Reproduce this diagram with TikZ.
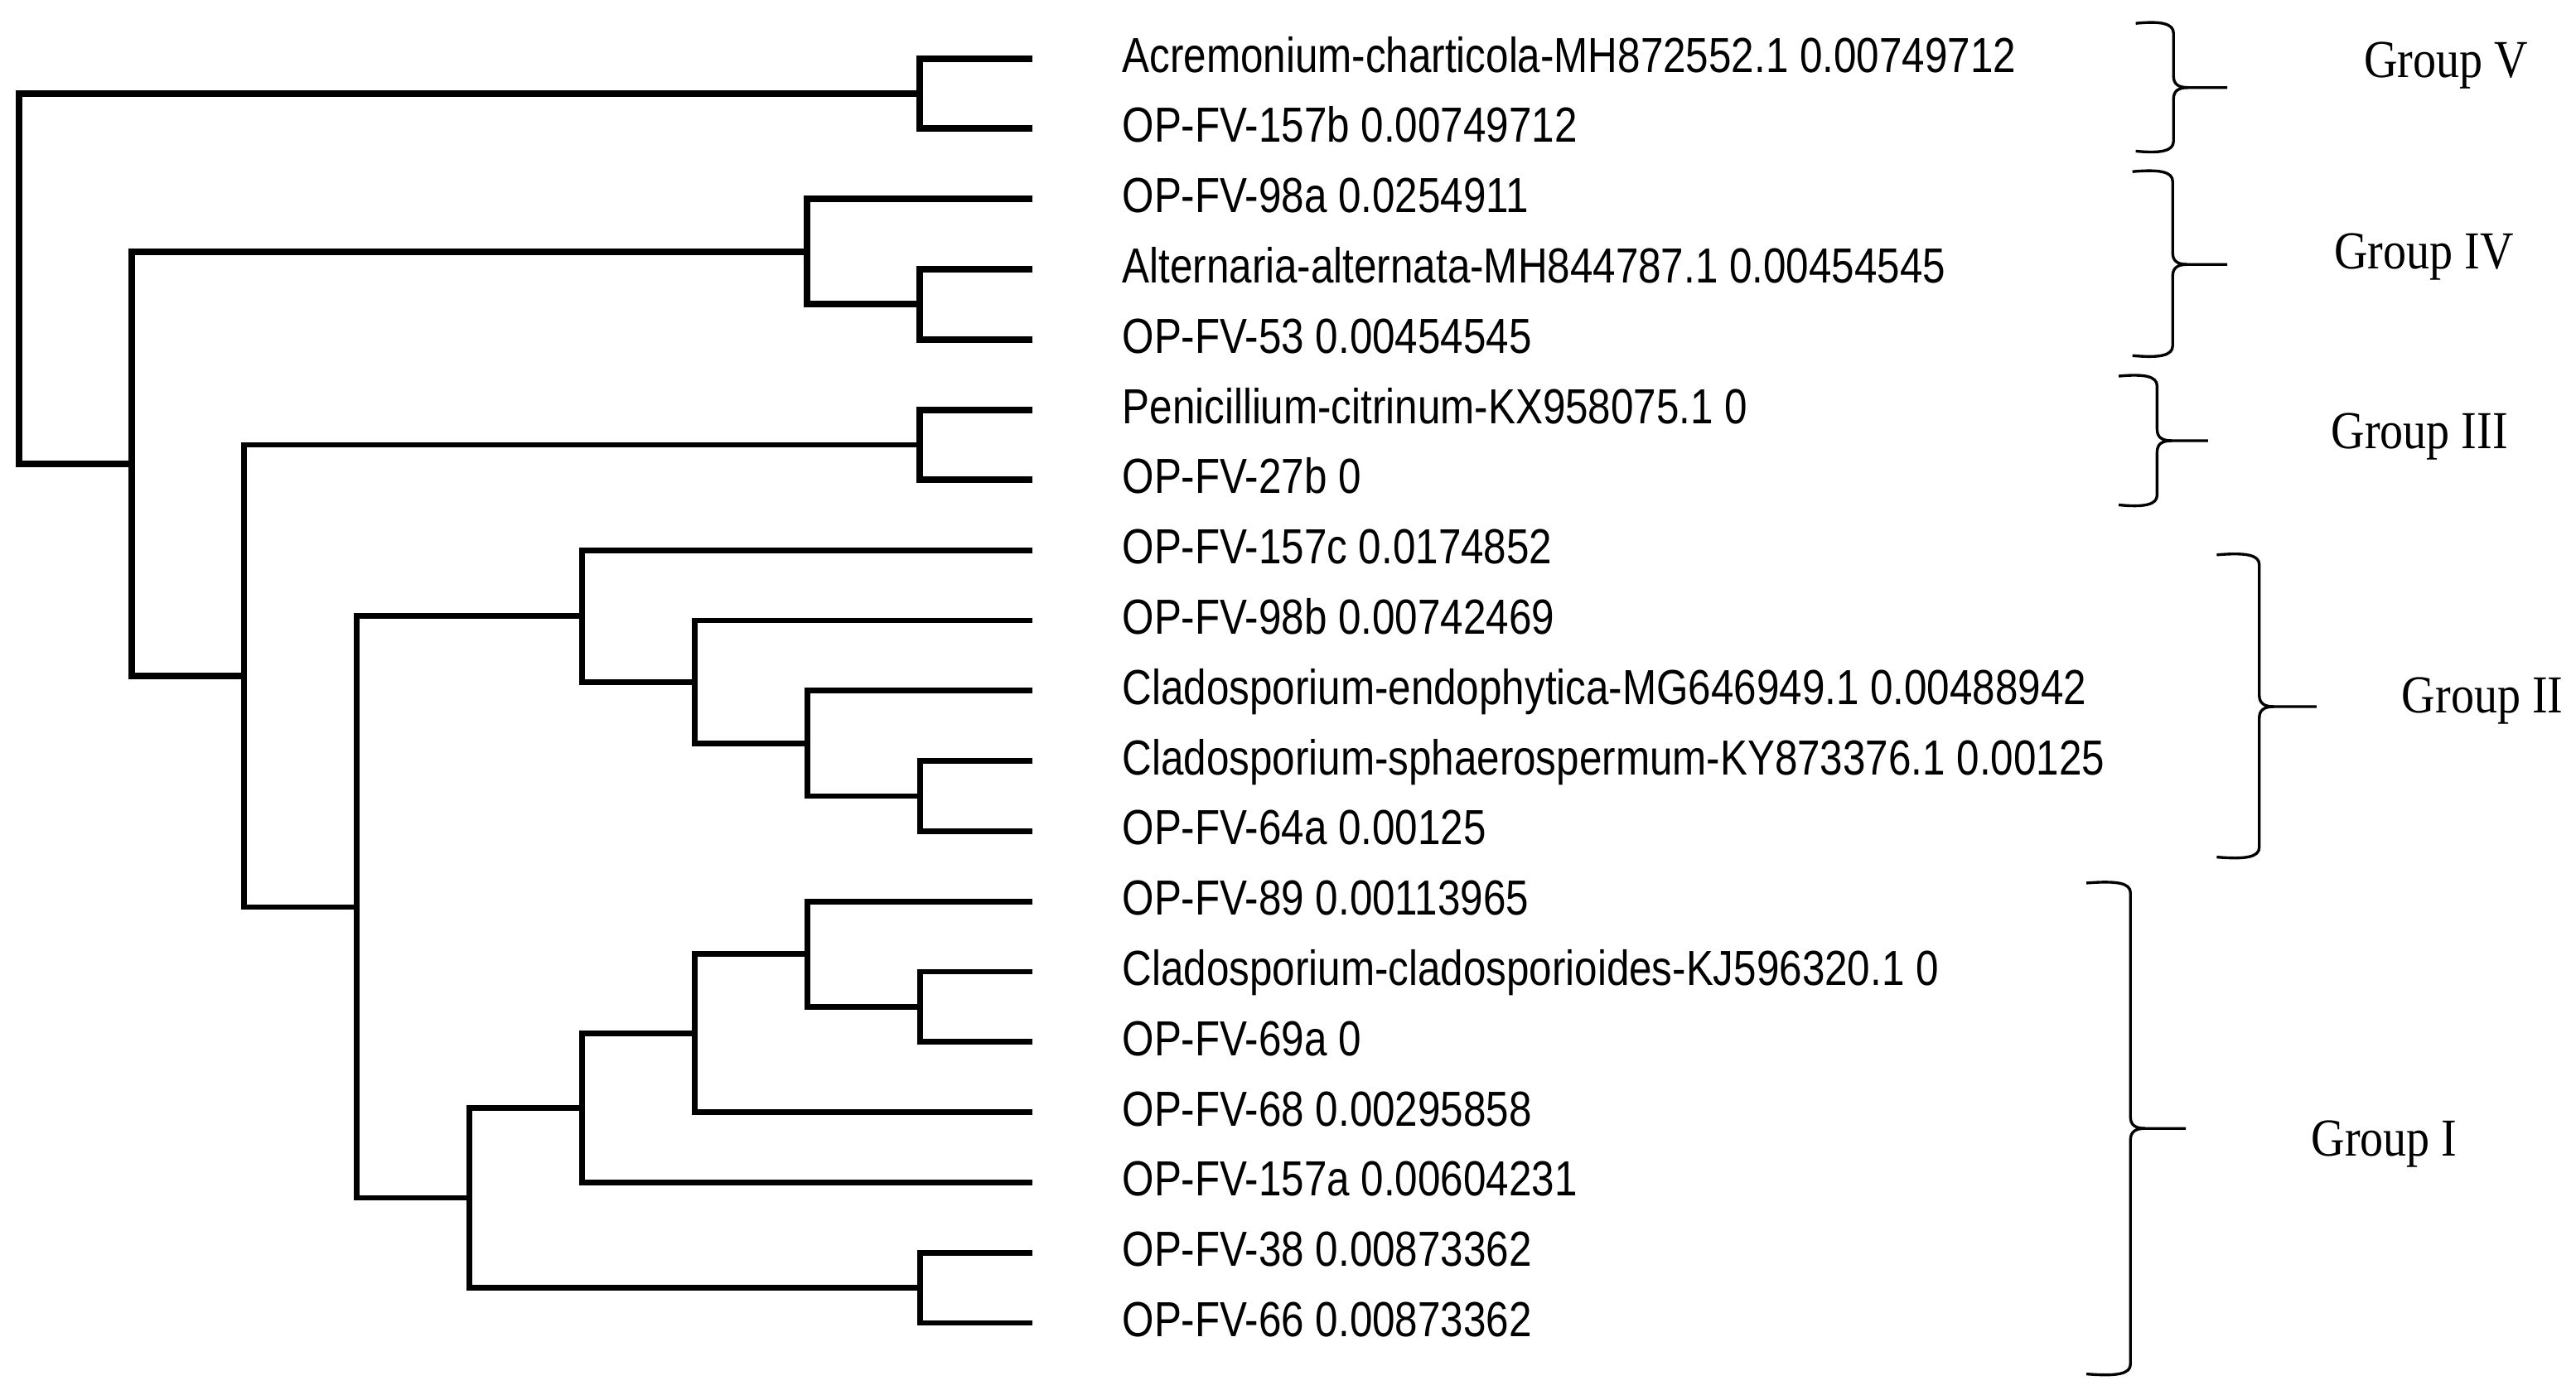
\documentclass[tikz,border=0pt]{standalone}
\usepackage{fontspec}
\newfontfamily\labfont[FakeStretch=0.83]{Liberation Sans}
\newfontfamily\grpfont[FakeStretch=0.87]{Liberation Serif}
\newcommand\grpbrace[6]{%
  \draw[brace] (#1,#4) .. controls (#2-8,#4-1.5) and (#2,#4) .. (#2,#4+6) -- (#2,#5-7)
     .. controls (#2,#5-2) and (#2+3,#5) .. (#2+9,#5) -- (#3,#5);
  \draw[brace] (#1,#6) .. controls (#2-8,#6+1.5) and (#2,#6) .. (#2,#6-6) -- (#2,#5+7)
     .. controls (#2,#5+2) and (#2+3,#5) .. (#2+9,#5);
}
\begin{document}
\begin{tikzpicture}[x=1pt,y=-1pt,
  br/.style={line width=3.4pt, line join=miter},
  brup/.style={line width=4pt, line join=miter},
  brace/.style={line width=1.7pt},
  lab/.style={anchor=base west, inner sep=0pt, font=\labfont\fontsize{30}{30}\selectfont},
  grp/.style={anchor=base west, inner sep=0pt, font=\grpfont\fontsize{32.5}{32.5}\selectfont}]
\useasboundingbox[fill=white] (0,0) rectangle (1568,849.3);

% leaves and labels
\foreach \i/\txt in {
  1/{Acremonium-charticola-MH872552.1 0.00749712},
  2/{OP-FV-157b 0.00749712},
  3/{OP-FV-98a 0.0254911},
  4/{Alternaria-alternata-MH844787.1 0.00454545},
  5/{OP-FV-53 0.00454545},
  6/{Penicillium-citrinum-KX958075.1 0},
  7/{OP-FV-27b 0},
  8/{OP-FV-157c 0.0174852},
  9/{OP-FV-98b 0.00742469},
  10/{Cladosporium-endophytica-MG646949.1 0.00488942},
  11/{Cladosporium-sphaerospermum-KY873376.1 0.00125},
  12/{OP-FV-64a 0.00125},
  13/{OP-FV-89 0.00113965},
  14/{Cladosporium-cladosporioides-KJ596320.1 0},
  15/{OP-FV-69a 0},
  16/{OP-FV-68 0.00295858},
  17/{OP-FV-157a 0.00604231},
  18/{OP-FV-38 0.00873362},
  19/{OP-FV-66 0.00873362}} {
  \coordinate (l\i) at (628.45,{35.6+(\i-1)*42.77});
  \node[lab] (t\i) at (683,{35.6+(\i-1)*42.77+8.3}) {\txt};
}

% internal nodes
\coordinate (A) at (559.9,56.985);
\coordinate (B) at (559.9,185.295);
\coordinate (C) at (491.35,153.2175);
\coordinate (D) at (559.9,270.835);
\coordinate (E) at (559.9,484.685);
\coordinate (F) at (491.35,452.6075);
\coordinate (G) at (422.8,415.18);
\coordinate (H) at (354.25,375.085);
\coordinate (I) at (559.9,612.995);
\coordinate (J) at (491.35,580.9175);
\coordinate (K) at (422.8,629.03);
\coordinate (L) at (354.25,674.475);
\coordinate (M) at (559.9,784.075);
\coordinate (N) at (285.7,729.275);
\coordinate (O) at (217.15,552.18);
\coordinate (P) at (148.6,411.51);
\coordinate (Q) at (80.05,282.36);
\coordinate (R) at (11.5,169.67);

% branches
\draw[brup] (l1) -| (A) |- (l2);
\draw[brup] (l4) -| (B) |- (l5);
\draw[brup] (l3) -| (C) |- (B);
\draw[brup] (l6) -| (D) |- (l7);
\draw[br] (l11) -| (E) |- (l12);
\draw[br] (l10) -| (F) |- (E);
\draw[br] (l9) -| (G) |- (F);
\draw[br] (l8) -| (H) |- (G);
\draw[br] (l14) -| (I) |- (l15);
\draw[br] (l13) -| (J) |- (I);
\draw[br] (J) -| (K) |- (l16);
\draw[br] (K) -| (L) |- (l17);
\draw[br] (l18) -| (M) |- (l19);
\draw[br] (L) -| (N) |- (M);
\draw[br] (H) -| (O) |- (N);
\draw[br] (D) -| (P) |- (O);
\draw[brup] (C) -| (Q) |- (P);
\draw[brup] (A) -| (R) |- (Q);

% braces
\grpbrace{1300}{1323}{1355.7}{14.2}{53.3}{92}
\grpbrace{1298}{1322.5}{1355.7}{104.5}{161}{216.5}
\grpbrace{1289.6}{1313}{1344}{229}{268.3}{307.4}
\grpbrace{1349.3}{1375.2}{1410}{337.8}{430.2}{521.8}
\grpbrace{1270}{1296.8}{1330.5}{537.6}{687}{836.5}

% group labels
\node[grp] (gV) at (1438.8,47) {Group V};
\node[grp] (gIV) at (1420.7,163.5) {Group IV};
\node[grp] (gIII) at (1418.8,273) {Group III};
\node[grp] (gII) at (1461.8,434) {Group II};
\node[grp] (gI) at (1406.7,704) {Group I};
\end{tikzpicture}
\end{document}
